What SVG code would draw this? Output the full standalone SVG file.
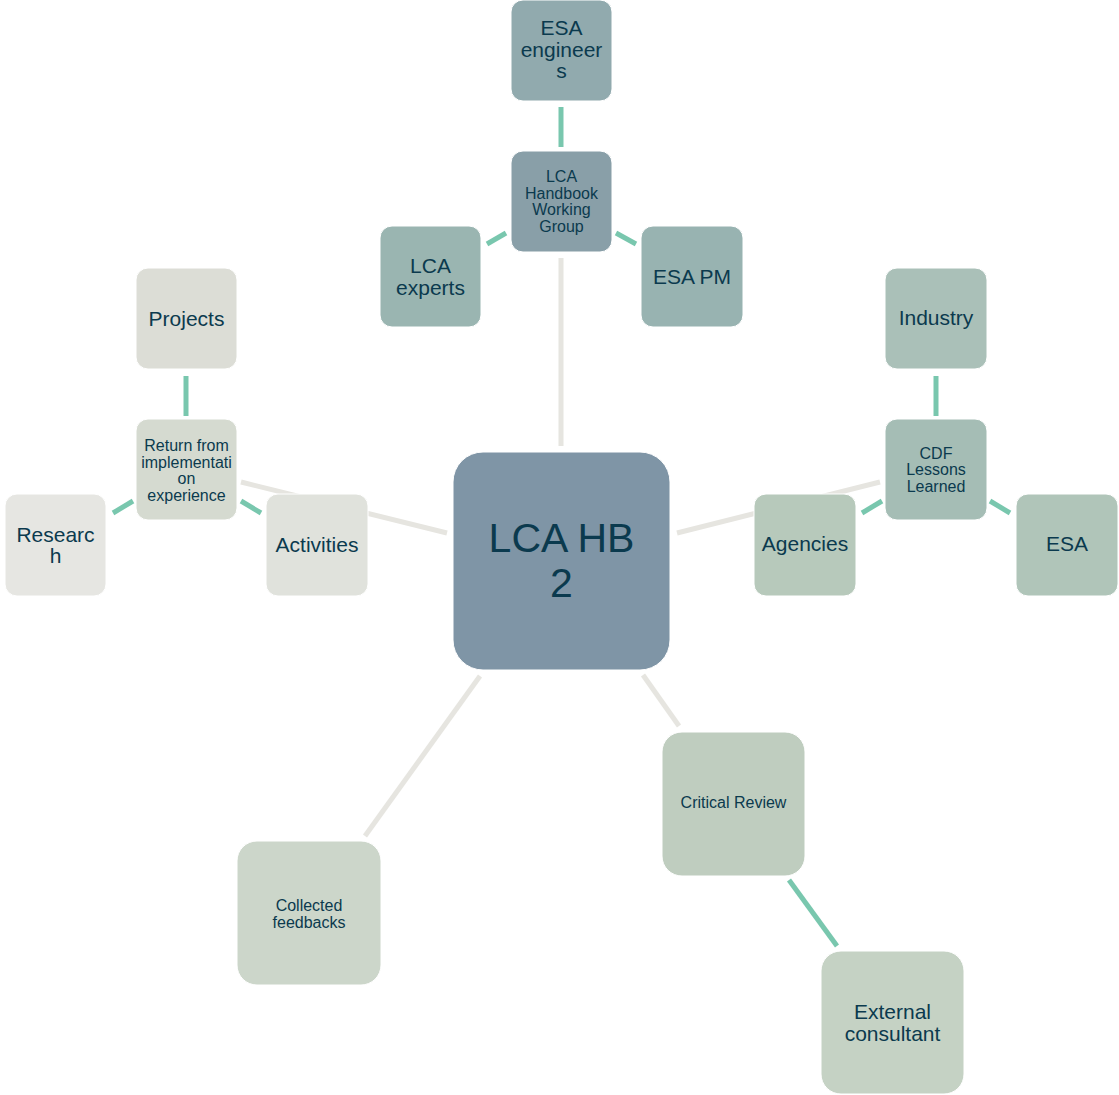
<svg xmlns="http://www.w3.org/2000/svg" width="1119" height="1095" viewBox="0 0 1119 1095">
<style>
text{font-family:"Liberation Sans",Arial,sans-serif;fill:#0b3a4e;text-anchor:middle}
.t16{font-size:16px}
.t21{font-size:21px}
.t41{font-size:41px}
.main{stroke:#e6e5e0;stroke-width:5;fill:none}
.sub{stroke:#79c7ae;stroke-width:5;fill:none}
rect{stroke:#ffffff;stroke-width:1}
</style>
<rect width="1119" height="1095" fill="#ffffff" stroke="none"/>
<g id="connectors">
<line class="main" x1="561" y1="258" x2="561" y2="446"/>
<line class="main" x1="241" y1="482" x2="447" y2="533"/>
<line class="main" x1="677" y1="533" x2="880" y2="482"/>
<line class="main" x1="643" y1="675" x2="679" y2="726"/>
<line class="main" x1="480" y1="676" x2="365" y2="836"/>
<line class="sub" x1="561" y1="107" x2="561" y2="147"/>
<line class="sub" x1="487" y1="244" x2="506" y2="233"/>
<line class="sub" x1="616" y1="233" x2="636" y2="244"/>
<line class="sub" x1="186" y1="376" x2="186" y2="416"/>
<line class="sub" x1="113" y1="513" x2="133" y2="501"/>
<line class="sub" x1="241" y1="501" x2="261" y2="513"/>
<line class="sub" x1="936" y1="376" x2="936" y2="416"/>
<line class="sub" x1="862" y1="513" x2="882" y2="501"/>
<line class="sub" x1="990" y1="501" x2="1010" y2="513"/>
<line class="sub" x1="789" y1="880" x2="837" y2="946"/>
</g>
<g id="center">
<rect x="453" y="452" width="217" height="218" rx="30" fill="#7f95a6"/>
<text class="t41" x="561.5" y="552">LCA HB</text>
<text class="t41" x="561.5" y="597">2</text>
</g>
<g id="esa-engineers">
<rect x="511" y="0" width="101" height="101" rx="12" fill="#91aaae"/>
<text class="t21" x="561.5" y="35">ESA</text>
<text class="t21" x="561.5" y="57">engineer</text>
<text class="t21" x="561.5" y="78">s</text>
</g>
<g id="lca-wg">
<rect x="511" y="151" width="101" height="101" rx="12" fill="#899fa8"/>
<text class="t16" x="561.5" y="182">LCA</text>
<text class="t16" x="561.5" y="198.5">Handbook</text>
<text class="t16" x="561.5" y="215">Working</text>
<text class="t16" x="561.5" y="231.5">Group</text>
</g>
<g id="lca-experts">
<rect x="380" y="226" width="101" height="101" rx="12" fill="#9ab5b1"/>
<text class="t21" x="430.5" y="273">LCA</text>
<text class="t21" x="430.5" y="295">experts</text>
</g>
<g id="esa-pm">
<rect x="641" y="226" width="102" height="101" rx="12" fill="#98b3b1"/>
<text class="t21" x="692" y="284">ESA PM</text>
</g>
<g id="projects">
<rect x="136" y="268" width="101" height="101" rx="12" fill="#dcddd6"/>
<text class="t21" x="186.5" y="326">Projects</text>
</g>
<g id="return">
<rect x="136" y="419" width="101" height="101" rx="12" fill="#d5dad0"/>
<text class="t16" x="186.5" y="451">Return from</text>
<text class="t16" x="186.5" y="467.5">implementati</text>
<text class="t16" x="186.5" y="484">on</text>
<text class="t16" x="186.5" y="500.5">experience</text>
</g>
<g id="research">
<rect x="5" y="494" width="101" height="102" rx="12" fill="#e6e6e2"/>
<text class="t21" x="55.5" y="542">Researc</text>
<text class="t21" x="55.5" y="563">h</text>
</g>
<g id="activities">
<rect x="266" y="494" width="102" height="102" rx="12" fill="#e0e2dc"/>
<text class="t21" x="317" y="552">Activities</text>
</g>
<g id="industry">
<rect x="885" y="268" width="102" height="101" rx="12" fill="#aac0b8"/>
<text class="t21" x="936" y="325">Industry</text>
</g>
<g id="cdf">
<rect x="885" y="419" width="102" height="101" rx="12" fill="#a5bdb5"/>
<text class="t16" x="936" y="458.5">CDF</text>
<text class="t16" x="936" y="475">Lessons</text>
<text class="t16" x="936" y="491.5">Learned</text>
</g>
<g id="agencies">
<rect x="754" y="494" width="102" height="102" rx="12" fill="#b7c9bb"/>
<text class="t21" x="805" y="551">Agencies</text>
</g>
<g id="esa">
<rect x="1016" y="494" width="102" height="102" rx="12" fill="#b0c5b9"/>
<text class="t21" x="1067" y="551">ESA</text>
</g>
<g id="critical-review">
<rect x="662" y="732" width="143" height="144" rx="20" fill="#bfcdbf"/>
<text class="t16" x="733.5" y="808">Critical Review</text>
</g>
<g id="collected-feedbacks">
<rect x="237" y="841" width="144" height="144" rx="20" fill="#ccd6ca"/>
<text class="t16" x="309" y="911">Collected</text>
<text class="t16" x="309" y="928">feedbacks</text>
</g>
<g id="external-consultant">
<rect x="821" y="951" width="143" height="143" rx="20" fill="#c5d2c4"/>
<text class="t21" x="892.5" y="1019">External</text>
<text class="t21" x="892.5" y="1041">consultant</text>
</g>
</svg>
